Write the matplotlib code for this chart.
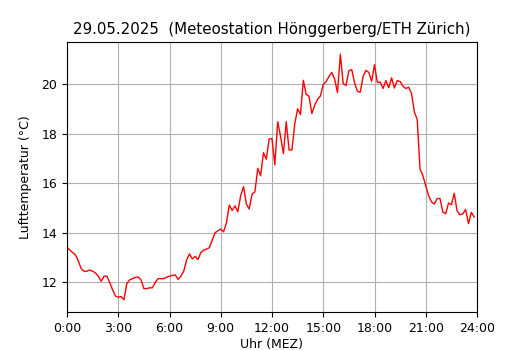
import numpy as np
import matplotlib
matplotlib.use("Agg")
import matplotlib.pyplot as plt

title = "29.05.2025  (Meteostation Hönggerberg/ETH Zürich)"
xlabel = "Uhr (MEZ)"
ylabel = "Lufttemperatur (°C)"
tick_hours = [0, 3, 6, 9, 12, 15, 18, 21, 24]
tick_labels = ["0:00", "3:00", "6:00", "9:00", "12:00", "15:00", "18:00", "21:00", "24:00"]

# 10-minute temperature readings, 00:00 .. 23:50
temperature = [
    13.42, 13.30, 13.20, 13.10, 12.85, 12.55, 12.45, 12.45, 12.50, 12.45, 12.38, 12.25,
    12.04, 12.25, 12.25, 12.00, 11.70, 11.45, 11.40, 11.43, 11.30, 11.95, 12.10, 12.15,
    12.20, 12.22, 12.10, 11.75, 11.75, 11.78, 11.78, 12.00, 12.15, 12.15, 12.15, 12.21,
    12.25, 12.28, 12.30, 12.12, 12.25, 12.45, 12.90, 13.15, 12.95, 13.05, 12.92, 13.20,
    13.30, 13.34, 13.40, 13.70, 14.00, 14.08, 14.15, 14.04, 14.40, 15.12, 14.90, 15.08,
    14.85, 15.50, 15.86, 15.16, 14.96, 15.56, 15.65, 16.60, 16.30, 17.23, 16.97, 17.78,
    17.80, 16.74, 18.48, 17.90, 17.19, 18.48, 17.34, 17.34, 18.40, 19.00, 18.77, 20.15,
    19.58, 19.51, 18.81, 19.15, 19.38, 19.52, 19.98, 20.10, 20.30, 20.47, 20.20, 19.65,
    21.20, 20.02, 19.94, 20.54, 20.58, 20.05, 19.71, 19.67, 20.31, 20.55, 20.47, 20.11,
    20.78, 20.06, 20.08, 19.82, 20.14, 19.85, 20.25, 19.84, 20.14, 20.10, 19.91, 19.82,
    19.87, 19.62, 18.88, 18.57, 16.57, 16.30, 15.90, 15.50, 15.25, 15.16, 15.38, 15.38,
    14.84, 14.77, 15.20, 15.13, 15.59, 14.89, 14.73, 14.76, 14.94, 14.37, 14.82, 14.64,
]
hours = np.arange(len(temperature)) * 10 / 60.0

fig = plt.figure(figsize=(5.3, 3.5), dpi=100)
ax = fig.add_axes([67/530, 1 - 312/350, 410/530, 270/350])
ax.plot(hours, temperature, color="red", linewidth=1.0)
ax.set_xlim(0, 24)
ax.set_xticks(tick_hours)
ax.set_xticklabels(tick_labels)
ax.grid(True, color="#b0b0b0", linewidth=0.8)
ax.set_axisbelow(True)
ax.set_title(title, fontsize=10.8)
ax.set_xlabel(xlabel, fontsize=9, labelpad=2.5)
ax.set_ylabel(ylabel, fontsize=9, labelpad=7)
ax.tick_params(labelsize=9)
fig.savefig("out.png", dpi=100)
